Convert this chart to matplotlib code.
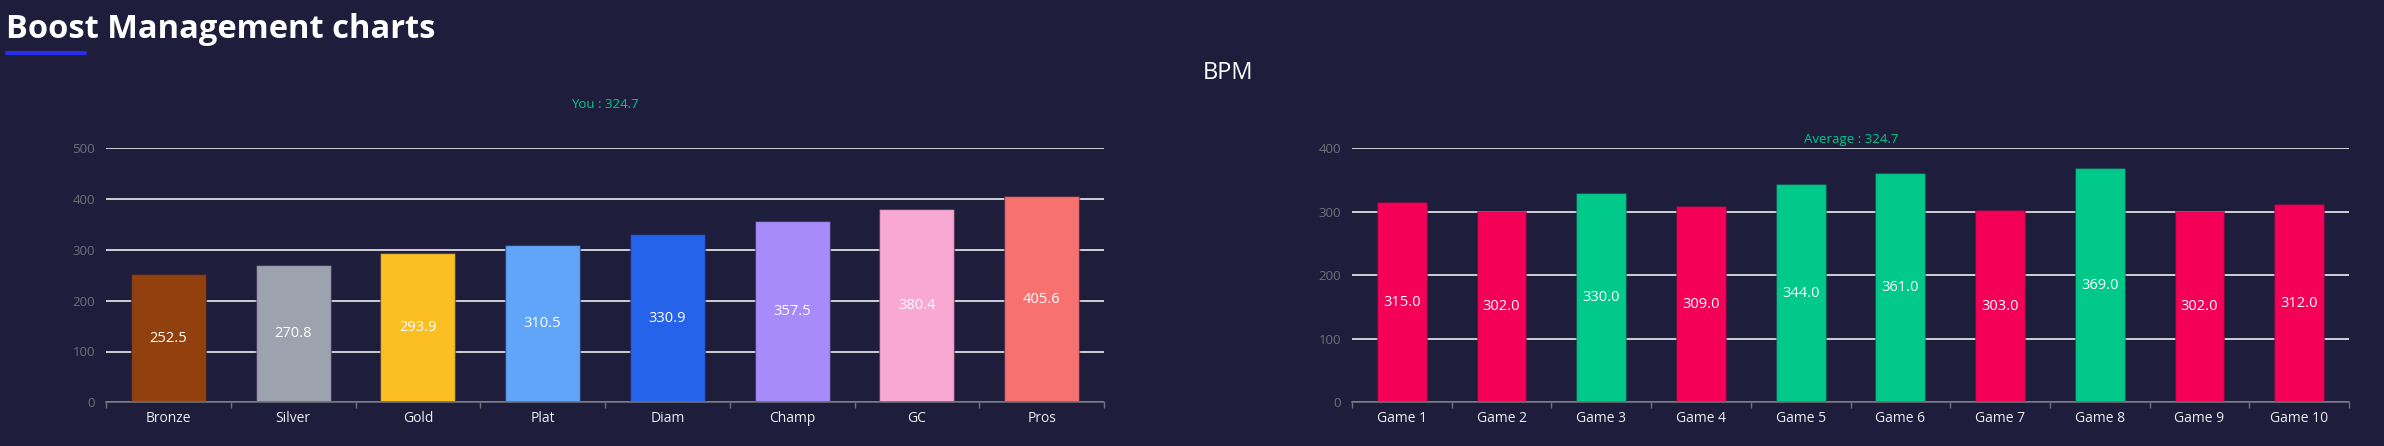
import numpy as np
import matplotlib

matplotlib.use("Agg")
import matplotlib.pyplot as plt
from matplotlib.lines import Line2D

plt.rcParams["font.family"] = ["Open Sans", "DejaVu Sans"]

# --- data -------------------------------------------------------------------
ranks = ["Bronze", "Silver", "Gold", "Plat", "Diam", "Champ", "GC", "Pros"]
rank_bpm = [252.5, 270.8, 293.9, 310.5, 330.9, 357.5, 380.4, 405.6]
rank_colors = ["#92400e", "#9ca3af", "#fbbf24", "#60a5fa",
               "#2563eb", "#a78bfa", "#f9a8d4", "#f87171"]

games = [f"Game {i}" for i in range(1, 11)]
game_bpm = [315.0, 302.0, 330.0, 309.0, 344.0, 361.0, 303.0, 369.0, 302.0, 312.0]
you_avg = 324.7

left_yticks = [0, 100, 200, 300, 400, 500]
right_yticks = [0, 100, 200, 300, 400]

BG = "#1e1e3c"
GREEN = "#00c98a"
RED = "#f50057"
AXIS = "#6e7079"


def style_axis(ax, n, yticks, labels):
    ax.set_facecolor(BG)
    ax.set_xlim(-0.5, n - 0.5)
    ax.set_ylim(yticks[0], yticks[-1])
    ax.set_yticks(yticks)
    ax.set_yticklabels([str(v) for v in yticks], color=AXIS, fontsize=9.5)
    ax.set_xticks(range(n))
    ax.set_xticklabels(labels, color="#ededf2", fontsize=10)
    ax.set_xticks(np.arange(n + 1) - 0.5, minor=True)
    ax.tick_params(axis="x", which="major", length=0, pad=6)
    ax.tick_params(axis="x", which="minor", length=4, color=AXIS, width=1)
    ax.tick_params(axis="y", length=0, pad=8)
    for side in ("top", "right", "left"):
        ax.spines[side].set_visible(False)
    ax.spines["bottom"].set_color(AXIS)
    ax.spines["bottom"].set_linewidth(1.2)
    ax.set_axisbelow(True)
    ax.yaxis.grid(True, color="white", lw=1.1)
    ax.xaxis.grid(False)


def label_bars(ax, values):
    for i, v in enumerate(values):
        ax.text(i, v / 2, f"{v:.1f}", ha="center", va="center",
                color="white", fontsize=10.5)


fig = plt.figure(figsize=(23.84, 4.46), dpi=100, facecolor=BG)

# header
fig.text(6 / 2384, 1 - 38 / 446, "Boost Management charts", color="white",
         fontsize=23.5, fontweight="bold", ha="left", va="baseline")
fig.add_artist(Line2D([7 / 2384, 85 / 2384], [1 - 53 / 446, 1 - 53 / 446],
                      color="#2b2bea", lw=3, solid_capstyle="round"))
fig.text(1228 / 2384, 1 - 73 / 446, "BPM", color="white", fontsize=17,
         ha="center", va="center")

# left: BPM per rank
ax1 = fig.add_axes([106 / 2384, 43.7 / 446, 998 / 2384, 254 / 446])
style_axis(ax1, len(ranks), left_yticks, ranks)
x1 = np.arange(len(ranks))
ax1.bar(x1, rank_bpm, width=0.6, color=rank_colors,
        edgecolor=(0.12, 0.08, 0.2, 0.45), linewidth=1)
label_bars(ax1, rank_bpm)
fig.text(605 / 2384, 1 - 105 / 446, f"You : {you_avg}", color=GREEN,
         fontsize=9.5, ha="center", va="center")

# right: BPM per game
ax2 = fig.add_axes([1352 / 2384, 43.7 / 446, 997 / 2384, 254 / 446])
style_axis(ax2, len(games), right_yticks, games)
x2 = np.arange(len(games))
game_colors = [GREEN if v > you_avg else RED for v in game_bpm]
ax2.bar(x2, game_bpm, width=0.5, color=game_colors,
        edgecolor=(0.12, 0.08, 0.2, 0.3), linewidth=1)
label_bars(ax2, game_bpm)
fig.text(1851 / 2384, 1 - 139 / 446, f"Average : {you_avg}", color=GREEN,
         fontsize=9.5, ha="center", va="center")

fig.savefig("out.png", dpi=100, facecolor=BG)
